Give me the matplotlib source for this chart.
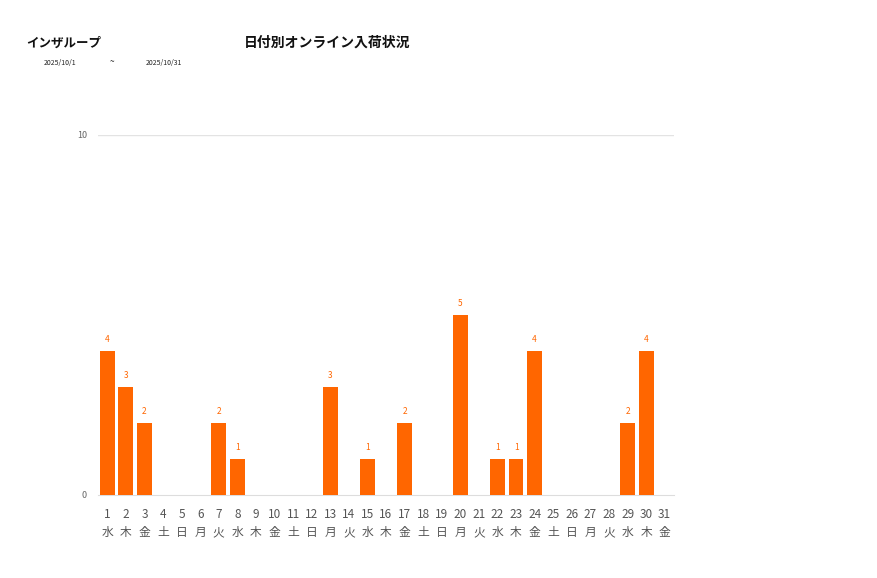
import matplotlib
matplotlib.use("Agg")
import matplotlib.pyplot as plt

plt.rcParams['font.family'] = ['Noto Sans CJK JP', 'DejaVu Sans']

days = list(range(1, 32))
weekdays = ["水", "木", "金", "土", "日", "月", "火", "水", "木", "金", "土", "日", "月", "火", "水",
            "木", "金", "土", "日", "月", "火", "水", "木", "金", "土", "日", "月", "火", "水", "木", "金"]
values = [4, 3, 2, 0, 0, 0, 2, 1, 0, 0, 0, 0, 3, 0, 1,
          0, 2, 0, 0, 5, 0, 1, 1, 4, 0, 0, 0, 0, 2, 4, 0]
yticks = [0, 10]
title_left = "インザループ"
title_main = "日付別オンライン入荷状況"
date_from = "2025/10/1"
date_to = "2025/10/31"

W, H = 877, 578
fig = plt.figure(figsize=(W / 100, H / 100), dpi=100)
ax = fig.add_axes([98 / W, (H - 495) / H, (674 - 98) / W, (495 - 135) / H])

color = "#FF6600"
x = list(range(len(days)))
ax.bar(x, values, width=0.8, color=color, zorder=3)
for xi, v in zip(x, values):
    if v > 0:
        ax.annotate(str(v), (xi, v), xytext=(0, 5), textcoords="offset points",
                    ha="center", va="bottom", fontsize=6, color=color)

ax.set_xlim(-0.5, len(days) - 0.5)
ax.set_ylim(0, 10)
ax.set_yticks(yticks)
ax.set_yticklabels([str(t) for t in yticks], fontsize=6.5, color="#666666")
ax.set_xticks(x)
ax.set_xticklabels([f"{d}\n{w}" for d, w in zip(days, weekdays)], fontsize=8.5,
                   color="#555555", linespacing=1.55)
ax.tick_params(axis="both", length=0)
ax.tick_params(axis="x", pad=9)
ax.tick_params(axis="y", pad=8)
for s in ["top", "right", "left"]:
    ax.spines[s].set_visible(False)
ax.spines["bottom"].set_color("#dddddd")
ax.axhline(10, color="#e3e3e3", linewidth=1, zorder=1)

fig.text(26 / W, 1 - 43 / H, title_left, fontsize=9, fontweight="bold", ha="left", va="center", color="#111111")
fig.text(327 / W, 1 - 43 / H, title_main, fontsize=10, fontweight="bold", ha="center", va="center", color="#111111")
fig.text(44 / W, 1 - 63 / H, date_from, fontsize=5, ha="left", va="center", color="#222222")
fig.text(112 / W, 1 - 62 / H, "~", fontsize=6, ha="center", va="center", color="#222222")
fig.text(146 / W, 1 - 63 / H, date_to, fontsize=5, ha="left", va="center", color="#222222")

fig.savefig("out.png", dpi=100, facecolor="white")
